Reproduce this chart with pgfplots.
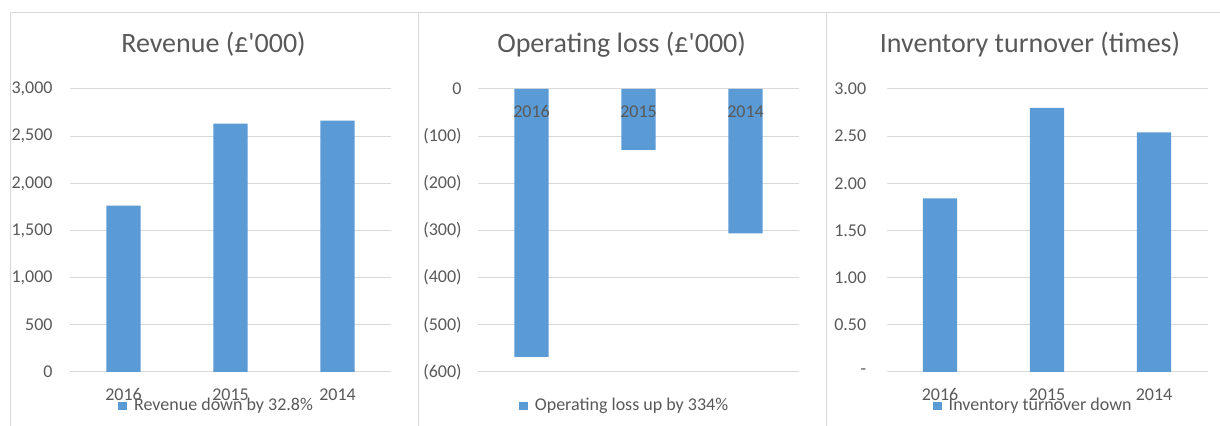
\documentclass[border=0pt]{standalone}
\usepackage{pgfplots}
\pgfplotsset{compat=1.18}
\usepackage{fontspec}
\setmainfont{Carlito}
\definecolor{barblue}{HTML}{5B9BD5}
\definecolor{txtgray}{HTML}{595959}
\definecolor{gridgray}{HTML}{D9D9D9}
\pgfplotsset{
  panel/.style={
    scale only axis, width=160.5pt, height=141.5pt,
    anchor=south west,
    xmin=-0.5, xmax=2.5, xtick={0,1,2}, xticklabels={2016,2015,2014},
    axis line style={draw=none}, major tick length=0pt,
    ymajorgrids, major grid style={draw=gridgray, line width=0.5pt},
    tick label style={font=\fontsize{9}{10}\selectfont, text=txtgray, inner sep=0pt},
    x tick label style={anchor=north, yshift=-8pt},
    y tick label style={anchor=east},
    ybar, bar width=0.32,
    legend style={draw=none, fill=none, inner sep=0pt, font=\fontsize{9}{10}\selectfont, text=txtgray,
      at={(0.46,-0.12)}, anchor=center, /tikz/every odd column/.append style={column sep=1.5pt}},
    legend image code/.code={\fill[barblue] (0pt,-2.2pt) rectangle (4.4pt,2.2pt);},
  }
}
\begin{document}
\begin{tikzpicture}
\useasboundingbox (0,0) rectangle (610pt,213pt);
\draw[gridgray, line width=0.5pt] (5pt,-2pt) -- (5pt,206.5pt) -- (620pt,206.5pt);
\draw[gridgray, line width=0.5pt] (209pt,-2pt) -- (209pt,206.5pt);
\draw[gridgray, line width=0.5pt] (413pt,-2pt) -- (413pt,206.5pt);

\begin{axis}[panel, at={(35pt,27pt)}, ymin=0, ymax=3000, ytick={0,500,1000,1500,2000,2500,3000},
  yticklabels={0,500,{1,000},{1,500},{2,000},{2,500},{3,000}},
  y tick label style={xshift=-8.5pt}]
\addplot[fill=barblue, draw=none] coordinates {(0,1763) (1,2632) (2,2664)};
\addlegendentry{Revenue down by 32.8\%}
\end{axis}

\begin{axis}[panel, at={(239pt,27pt)}, ymin=-600, ymax=0, ytick={-600,-500,-400,-300,-200,-100,0},
  yticklabels={(600),(500),(400),(300),(200),(100),0},
  y tick label style={xshift=-8pt},
  xticklabels={}]
\addplot[fill=barblue, draw=none] coordinates {(0,-568) (1,-129) (2,-306)};
\addlegendentry{Operating loss up by 334\%}
\node[anchor=north, yshift=-8pt, inner sep=0pt, text=txtgray, font=\fontsize{9}{10}\selectfont] at (axis cs:0,0) {2016};
\node[anchor=north, yshift=-8pt, inner sep=0pt, text=txtgray, font=\fontsize{9}{10}\selectfont] at (axis cs:1,0) {2015};
\node[anchor=north, yshift=-8pt, inner sep=0pt, text=txtgray, font=\fontsize{9}{10}\selectfont] at (axis cs:2,0) {2014};
\end{axis}

\begin{axis}[panel, at={(443.3pt,27pt)}, ymin=0, ymax=3, ytick={0,0.5,1,1.5,2,2.5,3},
  yticklabels={{-\hspace{3.8pt}},0.50,1.00,1.50,2.00,2.50,3.00},
  y tick label style={xshift=-10pt}]
\addplot[fill=barblue, draw=none] coordinates {(0,1.84) (1,2.80) (2,2.54)};
\addlegendentry{Inventory turnover down}
\end{axis}

\node[anchor=base, text=txtgray, font=\fontsize{14}{16}\selectfont] at (106.75pt,186.65pt) {Revenue (£\textquotesingle 000)};
\node[anchor=base, text=txtgray, font=\fontsize{14}{16}\selectfont] at (310.8pt,186.65pt) {Operating loss (£\textquotesingle 000)};
\node[anchor=base, text=txtgray, font=\fontsize{14}{16}\selectfont] at (515pt,186.65pt) {Inventory turnover (times)};
\end{tikzpicture}
\end{document}
